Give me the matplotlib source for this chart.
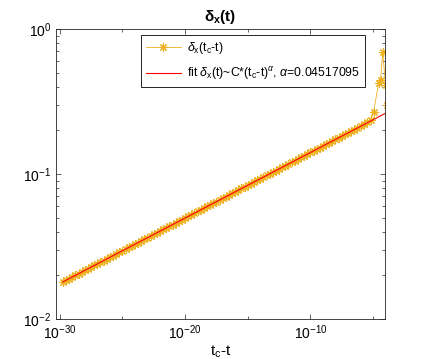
import numpy as np
import matplotlib
matplotlib.use("Agg")
import matplotlib.pyplot as plt
from matplotlib.ticker import LogLocator, FixedLocator, NullFormatter

plt.rcParams["font.family"] = ["Liberation Sans", "DejaVu Sans"]
plt.rcParams["mathtext.fontset"] = "custom"
plt.rcParams["mathtext.rm"] = "Liberation Sans"
plt.rcParams["mathtext.it"] = "Liberation Sans:italic"
plt.rcParams["mathtext.bf"] = "Liberation Sans:bold"

# log10(tc - t) of the samples
log_dt = [
    -29.75, -29.5, -29.25, -29.0, -28.75, -28.5, -28.25, -28.0,
    -27.75, -27.5, -27.25, -27.0, -26.75, -26.5, -26.25, -26.0,
    -25.75, -25.5, -25.25, -25.0, -24.75, -24.5, -24.25, -24.0,
    -23.75, -23.5, -23.25, -23.0, -22.75, -22.5, -22.25, -22.0,
    -21.75, -21.5, -21.25, -21.0, -20.75, -20.5, -20.25, -20.0,
    -19.75, -19.5, -19.25, -19.0, -18.75, -18.5, -18.25, -18.0,
    -17.75, -17.5, -17.25, -17.0, -16.75, -16.5, -16.25, -16.0,
    -15.75, -15.5, -15.25, -15.0, -14.75, -14.5, -14.25, -14.0,
    -13.75, -13.5, -13.25, -13.0, -12.75, -12.5, -12.25, -12.0,
    -11.75, -11.5, -11.25, -11.0, -10.75, -10.5, -10.25, -10.0,
    -9.75, -9.5, -9.25, -9.0, -8.75, -8.5, -8.25, -8.0,
    -7.75, -7.5, -7.25, -7.0, -6.75, -6.5, -6.25, -6.0,
    -5.75, -5.5, -5.2, -4.96, -4.56, -4.4, -4.24, -4.0, -3.9,
]
delta_x = [
    0.01804, 0.01852, 0.01900, 0.01950, 0.02002, 0.02055, 0.02109, 0.02164,
    0.02221, 0.02280, 0.02340, 0.02402, 0.02465, 0.02530, 0.02597, 0.02665,
    0.02735, 0.02807, 0.02881, 0.02957, 0.03035, 0.03115, 0.03197, 0.03282,
    0.03368, 0.03457, 0.03548, 0.03641, 0.03737, 0.03836, 0.03937, 0.04041,
    0.04147, 0.04256, 0.04369, 0.04484, 0.04602, 0.04723, 0.04847, 0.04975,
    0.05106, 0.05241, 0.05379, 0.05521, 0.05666, 0.05815, 0.05969, 0.06126,
    0.06288, 0.06453, 0.06623, 0.06798, 0.06977, 0.07161, 0.07349, 0.07543,
    0.07742, 0.07946, 0.08155, 0.08371, 0.08591, 0.08817, 0.09050, 0.09282,
    0.09527, 0.09778, 0.1004, 0.1030, 0.1057, 0.1085, 0.1114, 0.1143,
    0.1173, 0.1204, 0.1236, 0.1268, 0.1301, 0.1336, 0.1371, 0.1407,
    0.1444, 0.1482, 0.1521, 0.1561, 0.1602, 0.1644, 0.1688, 0.1733,
    0.1779, 0.1826, 0.1874, 0.1923, 0.1974, 0.2026, 0.2079, 0.2133,
    0.222, 0.230, 0.236, 0.268, 0.424, 0.445, 0.694, 0.411, 0.30,
]

# fit parameters
C_fit = 0.398
alpha = 0.04517095

dt = 10.0 ** np.array(log_dt)
fit = C_fit * dt ** alpha

fig = plt.figure(figsize=(4.26, 3.59), dpi=100)
ax = fig.add_axes([56 / 426, 1 - 319 / 359, 329 / 426, 290 / 359])

ax.loglog(dt, delta_x, "-", marker=(8, 2, 0), color="#EDB120", lw=0.6,
          ms=6, mew=0.8, label=r"$\delta_{\rm x}$(t$_{\rm c}$-t)")
ax.loglog(dt, fit, "-", color="red", lw=0.8,
          label=r"fit $\delta_{\rm x}$(t)~C*(t$_{\rm c}$-t)$^{\alpha}$, $\alpha$=0.04517095")

ax.set_xlim(10 ** -30.3, 10 ** -4.05)
ax.set_ylim(1e-2, 1e0)

ax.xaxis.set_major_locator(FixedLocator([1e-30, 1e-20, 1e-10]))
ax.xaxis.set_minor_locator(FixedLocator([1e-25, 1e-15, 1e-5]))
ax.xaxis.set_minor_formatter(NullFormatter())
ax.yaxis.set_major_locator(LogLocator(base=10))
ax.yaxis.set_minor_locator(LogLocator(base=10, subs=np.arange(2, 10)))
ax.yaxis.set_minor_formatter(NullFormatter())

ax.tick_params(which="both", direction="in", top=True, right=True,
               labelsize=10, width=0.5, color="#262626")
ax.tick_params(which="major", length=3.5)
ax.tick_params(which="minor", length=2)
for s in ax.spines.values():
    s.set_linewidth(0.6)
    s.set_color("#262626")

ax.set_title(r"$\mathbf{\delta_x(t)}$", fontsize=11, pad=6)
ax.set_xlabel(r"t$_{\rm c}$-t", fontsize=11, labelpad=1)

leg = ax.legend(loc="upper right", bbox_to_anchor=(0.939, 0.979), fontsize=8.8,
                fancybox=False, edgecolor="black", framealpha=1,
                handlelength=2.9, handletextpad=0.5, borderpad=0.4,
                labelspacing=0.75, borderaxespad=0)
leg.get_frame().set_linewidth(0.6)

fig.savefig("out.png", dpi=100)
